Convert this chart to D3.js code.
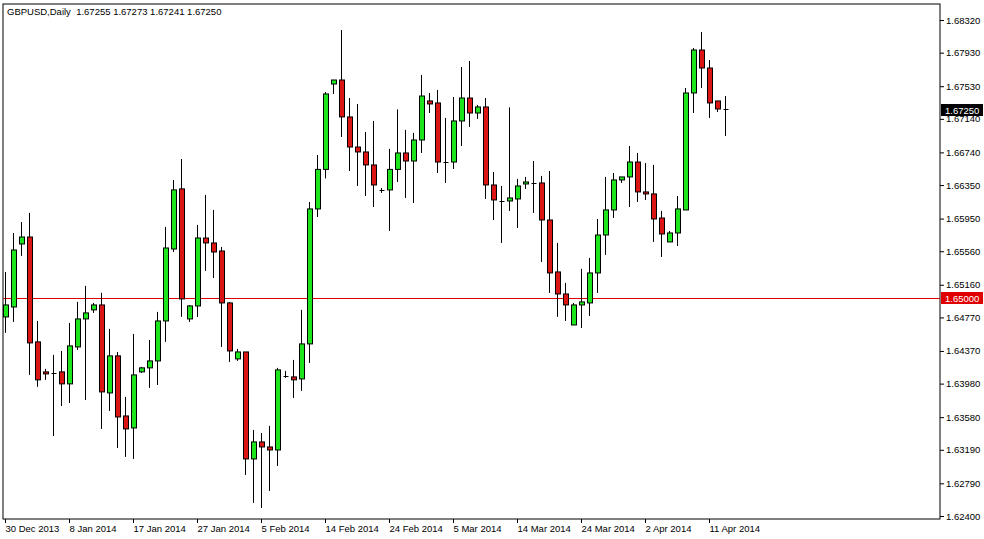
<!DOCTYPE html>
<html><head><meta charset="utf-8">
<script src="https://cdn.jsdelivr.net/npm/d3@7"></script>
<style>body{margin:0;background:#fff}svg{display:block}</style>
</head><body>
<svg id="chart" width="984" height="539"></svg>
<script>
// daily GBPUSD bars, one per trading day (incl. sunday bars)
const opens = [1.64776,1.64895,1.65647,1.6573,1.64478,1.6412,1.64108,1.6412,1.63977,1.64418,
 1.64752,1.6486,1.64919,1.63869,1.64311,1.63594,1.63451,1.6412,1.64168,1.64251,
 1.64728,1.65587,1.66304,1.64752,1.64907,1.65718,1.65659,1.65563,1.64943,1.64275,
 1.64358,1.63081,1.63284,1.63224,1.63188,1.64072,1.6406,1.64036,1.64454,1.66065,
 1.66537,1.67556,1.67604,1.67163,1.66804,1.66745,1.6659,1.66292,1.66292,1.66537,
 1.66733,1.66637,1.66888,1.67354,1.6733,1.66625,1.66625,1.67115,1.67389,1.6721,
 1.67282,1.66351,1.6616,1.6616,1.66184,1.66363,1.66375,1.66375,1.65933,1.65313,
 1.6505,1.6468,1.64919,1.64943,1.65301,1.65754,1.66053,1.66411,1.66447,1.66625,
 1.66268,1.66244,1.65957,1.65671,1.65778,1.66053,1.67449,1.67962,1.67747,1.67354,1.67255];
const highs = [1.65313,1.65778,1.65909,1.66017,1.64728,1.64156,1.64323,1.6437,1.64704,1.64955,
 1.65146,1.64943,1.65063,1.64633,1.64358,1.63821,1.64573,1.6418,1.64501,1.64836,
 1.6585,1.66411,1.66661,1.64919,1.65874,1.66232,1.66053,1.65611,1.64955,1.64394,
 1.64358,1.63427,1.63391,1.63475,1.64168,1.64132,1.64263,1.6486,1.66148,1.66709,
 1.67461,1.67604,1.68201,1.67389,1.67318,1.66984,1.67115,1.66315,1.66781,1.67253,
 1.67008,1.66972,1.67664,1.67449,1.67485,1.67151,1.67401,1.67759,1.67831,1.67306,
 1.67389,1.66506,1.66339,1.67277,1.66423,1.66447,1.66637,1.66459,1.66518,1.65659,
 1.65182,1.64943,1.65349,1.6548,1.65945,1.66447,1.66494,1.66447,1.66816,1.66733,
 1.66613,1.6659,1.66041,1.65802,1.6622,1.67509,1.67986,1.68177,1.67843,1.67354,1.67413];
const lows = [1.64585,1.64716,1.65504,1.64084,1.63941,1.64025,1.63355,1.63713,1.63749,1.64382,
 1.63785,1.64824,1.63439,1.63654,1.63212,1.63105,1.63081,1.64108,1.63929,1.63964,
 1.64478,1.65551,1.64776,1.64716,1.64776,1.65325,1.65241,1.64418,1.64239,1.64251,
 1.6289,1.62556,1.62496,1.62699,1.62997,1.64048,1.63809,1.63893,1.64227,1.65969,
 1.66429,1.67437,1.66924,1.66518,1.66339,1.6622,1.66088,1.66256,1.65802,1.66387,
 1.66196,1.66136,1.66733,1.6721,1.66494,1.66375,1.66542,1.66816,1.67043,1.67139,
 1.66184,1.65933,1.65659,1.66041,1.65838,1.66303,1.66017,1.65432,1.65062,1.64776,
 1.64728,1.6468,1.64644,1.64788,1.65062,1.65516,1.65957,1.66375,1.66088,1.66148,
 1.66172,1.65671,1.65492,1.65671,1.65623,1.66053,1.6721,1.67509,1.67151,1.67222,1.66936];
const closes = [1.64919,1.65575,1.6573,1.64466,1.64025,1.64096,1.64104,1.63977,1.6443,1.64752,
 1.64824,1.64919,1.63881,1.64311,1.63582,1.63439,1.64084,1.64168,1.64251,1.64728,
 1.65599,1.66292,1.64991,1.64907,1.65718,1.65659,1.65551,1.64943,1.6437,1.64358,
 1.63081,1.63284,1.63224,1.63188,1.64144,1.64072,1.64025,1.64454,1.66065,1.66537,
 1.67437,1.67604,1.67163,1.66804,1.66745,1.6659,1.66351,1.6629,1.66537,1.66733,
 1.66637,1.66888,1.67413,1.67318,1.66625,1.66625,1.67115,1.67389,1.6721,1.67282,
 1.66351,1.66172,1.6616,1.66196,1.66339,1.66387,1.66375,1.65933,1.65301,1.6505,
 1.64919,1.64919,1.64955,1.65301,1.65754,1.66053,1.66411,1.66447,1.66625,1.66268,
 1.66244,1.65945,1.65766,1.65778,1.66065,1.67449,1.67962,1.67747,1.6733,1.67258,1.6725];

const priceTicks = [1.6832,1.6793,1.6753,1.6714,1.6674,1.6635,1.6595,1.6556,1.6516,1.6477,1.6437,1.6398,1.6358,1.6319,1.6279,1.624];
const dateTicks = ["30 Dec 2013","8 Jan 2014","17 Jan 2014","27 Jan 2014","5 Feb 2014","14 Feb 2014",
 "24 Feb 2014","5 Mar 2014","14 Mar 2014","24 Mar 2014","2 Apr 2014","11 Apr 2014"];
const dateIdx = [0,8,16,24,32,40,48,56,64,72,80,88];
const levelLine = 1.65;
const header = "GBPUSD,Daily  1.67255 1.67273 1.67241 1.67250";

const bars = opens.map((o,i)=>({i,o,h:highs[i],l:lows[i],c:closes[i]}));

const svg = d3.select('#chart');
const font = '"Liberation Sans", Arial, sans-serif';
const L=3, R=940, T=4, B=519;

const x = d3.scaleLinear().domain([0,90]).range([5,725]);
const y = d3.scaleLinear().domain([1.624,1.6832]).range([516,20]);

svg.append('rect').attr('x',L).attr('y',T).attr('width',R-L).attr('height',B-T)
  .attr('fill','#fff').attr('stroke','#000');

// right price axis
const yAxis = d3.axisRight(y).tickValues(priceTicks).tickSize(4).tickFormat(d3.format('.5f'));
const ya = svg.append('g').attr('transform',`translate(${R},0)`).call(yAxis);
ya.select('.domain').remove();
ya.selectAll('text').attr('font-family',font).attr('font-size',9.5).attr('fill','#000').attr('x',6);

// bottom date axis
const xa = svg.append('g').attr('transform',`translate(0,${B})`);
dateIdx.forEach((d,k)=>{
  const px = Math.round(x(d))+0.5;
  xa.append('line').attr('x1',px).attr('x2',px).attr('y1',0).attr('y2',4).attr('stroke','#000');
  xa.append('text').attr('x',px).attr('y',13).attr('font-family',font).attr('font-size',9.5)
    .text(dateTicks[k]);
});

// header
svg.append('text').attr('x',7).attr('y',15).attr('font-family',font).attr('font-size',9.5)
  .attr('xml:space','preserve').text(header);

// level line
svg.append('line').attr('x1',L).attr('x2',R).attr('y1',Math.round(y(levelLine))+0.5)
  .attr('y2',Math.round(y(levelLine))+0.5).attr('stroke','#e00000');

// candles
const g = svg.append('g');
bars.forEach(d=>{
  const cx = Math.round(x(d.i))+0.5;
  g.append('line').attr('x1',cx).attr('x2',cx).attr('y1',y(d.h)).attr('y2',y(d.l)).attr('stroke','#000');
  const top = Math.min(y(d.o),y(d.c)), bot = Math.max(y(d.o),y(d.c));
  if (bot-top < 1.5) {
    g.append('line').attr('x1',cx-2).attr('x2',cx+3).attr('y1',Math.round(top)+0.5).attr('y2',Math.round(top)+0.5).attr('stroke','#000');
  } else {
    g.append('rect').attr('x',cx-2).attr('y',top).attr('width',5).attr('height',bot-top)
      .attr('fill', d.c>=d.o ? '#1ee61e' : '#dc1414').attr('stroke','#000');
  }
});

// price labels on axis (covering the tick labels beneath, as in the terminal)
function tag(v,bg){
  const py = Math.round(y(v));
  svg.append('rect').attr('x',R+1).attr('y',py-6).attr('width',42).attr('height',12).attr('fill',bg);
  svg.append('text').attr('x',R+5).attr('y',py+4).attr('font-family',font).attr('font-size',9.5)
    .attr('fill','#fff').text(d3.format('.5f')(v));
}
tag(levelLine,'#e00000');
tag(closes[closes.length-1],'#000');
</script>
</body></html>
